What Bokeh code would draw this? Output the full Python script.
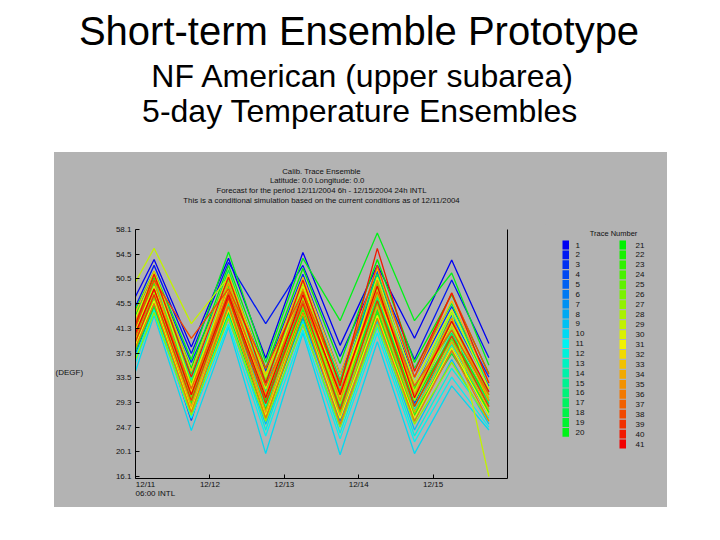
import colorsys
from bokeh.plotting import figure
from bokeh.models import Range1d, FixedTicker, LinearAxis, Spacer
from bokeh.layouts import column, row
from bokeh.embed import file_html
from bokeh.resources import INLINE
from bokeh.core.properties import value

# ---------------- data ----------------
hours = [0, 6, 18, 30, 42, 54, 66, 78, 90, 102, 114]   # hours after 12/11 06:00 INTL

tr01 = [46.7, 53.0, 38.1, 53.2, 36.2, 54.2, 38.4, 52.0, 39.6, 52.9, 38.7]
tr02 = [45.0, 52.0, 37.0, 52.5, 42.1, 52.0, 36.5, 50.5, 36.0, 49.5, 36.3]
tr03 = [44.0, 50.5, 35.5, 50.0, 34.0, 50.5, 33.5, 49.0, 33.0, 45.0, 33.0]
tr04 = [37.0, 45.2, 25.6, 46.0, 27.5, 48.0, 29.0, 47.0, 28.5, 42.0, 29.0]
tr05 = [42.5, 49.0, 31.0, 48.5, 31.5, 47.5, 30.0, 51.0, 31.0, 43.5, 31.5]
tr06 = [40.0, 47.5, 29.0, 46.5, 29.0, 45.5, 27.5, 46.0, 27.0, 40.0, 28.0]
tr07 = [39.0, 46.0, 30.5, 44.5, 26.5, 43.0, 25.5, 44.0, 26.0, 37.5, 26.5]
tr08 = [41.5, 48.0, 33.0, 47.0, 31.0, 46.0, 32.0, 48.5, 29.5, 41.5, 30.5]
tr09 = [38.5, 45.5, 28.0, 43.0, 25.0, 42.0, 24.5, 42.5, 24.0, 36.0, 25.0]
tr10 = [34.0, 43.5, 23.9, 41.5, 20.0, 40.5, 19.8, 39.0, 20.0, 31.5, 24.0]
tr11 = [35.5, 44.0, 26.0, 42.0, 23.0, 41.0, 22.5, 40.5, 22.0, 33.0, 24.5]
tr12 = [36.5, 44.5, 27.0, 43.5, 24.0, 42.5, 23.5, 41.5, 23.0, 34.5, 26.0]
tr13 = [40.5, 47.0, 30.0, 45.0, 28.0, 44.0, 27.0, 45.0, 27.5, 38.5, 28.5]
tr14 = [43.0, 49.5, 32.5, 49.0, 32.0, 48.5, 31.0, 49.5, 32.0, 44.0, 32.0]
tr15 = [38.0, 46.5, 28.5, 45.5, 27.0, 45.0, 26.5, 43.0, 25.5, 39.0, 27.0]
tr16 = [41.0, 48.5, 31.5, 47.5, 30.5, 47.0, 29.5, 46.5, 30.0, 41.0, 29.5]
tr17 = [39.5, 47.0, 29.5, 48.0, 29.5, 46.0, 28.0, 47.5, 28.0, 40.5, 28.5]
tr18 = [42.0, 50.0, 33.5, 51.2, 33.0, 49.0, 32.5, 50.5, 34.5, 45.5, 31.0]
tr19 = [37.5, 45.0, 27.5, 44.0, 26.0, 43.5, 26.0, 44.5, 27.0, 37.0, 27.5]
tr20 = [44.5, 51.0, 36.0, 54.3, 35.5, 53.2, 42.6, 57.5, 42.6, 50.7, 35.0]
tr21 = [43.5, 50.0, 34.5, 52.0, 34.5, 51.5, 35.3, 53.0, 35.5, 47.0, 33.6]
tr22 = [40.0, 47.5, 30.5, 46.0, 29.0, 46.5, 29.0, 46.0, 29.0, 40.0, 29.0]
tr23 = [38.0, 46.0, 28.5, 45.0, 27.5, 44.5, 27.0, 44.0, 26.5, 38.0, 27.0]
tr24 = [41.5, 49.0, 32.0, 48.5, 31.0, 48.0, 31.5, 49.0, 31.0, 42.5, 30.0]
tr25 = [39.0, 46.5, 29.5, 47.0, 28.5, 45.0, 28.5, 45.5, 28.0, 39.5, 28.0]
tr26 = [42.0, 48.0, 31.0, 49.5, 32.5, 47.5, 30.5, 47.0, 30.5, 43.0, 30.0]
tr27 = [36.0, 44.0, 26.5, 43.0, 25.5, 42.0, 24.5, 42.0, 25.0, 35.5, 25.5]
tr28 = [40.5, 47.5, 29.0, 46.5, 30.0, 46.5, 28.5, 48.0, 29.0, 41.5, 29.5]
tr29 = [49.2, 54.9, 42.1, 50.0, 33.0, 49.0, 31.5, 48.5, 30.5, 44.0, 16.1]
tr30 = [43.0, 50.5, 31.5, 49.0, 31.0, 48.5, 30.0, 50.0, 32.0, 44.5, 31.0]
tr31 = [38.5, 46.0, 27.5, 44.5, 26.5, 44.0, 26.0, 43.5, 26.0, 38.0, 26.5]
tr32 = [41.0, 48.5, 30.5, 48.0, 29.5, 47.0, 29.5, 47.5, 29.5, 42.0, 29.0]
tr33 = [44.0, 51.0, 34.0, 50.5, 33.5, 50.0, 33.5, 51.5, 33.0, 46.0, 32.0]
tr34 = [39.5, 47.0, 28.0, 46.0, 27.0, 45.5, 26.5, 45.0, 27.0, 39.0, 27.5]
tr35 = [42.5, 49.5, 30.0, 49.0, 30.0, 48.0, 29.0, 49.5, 30.0, 43.0, 29.0]
tr36 = [38.0, 45.5, 27.0, 45.0, 26.0, 44.0, 25.0, 43.0, 25.5, 37.5, 25.5]
tr37 = [40.0, 48.0, 31.0, 47.5, 31.5, 46.0, 30.5, 47.5, 31.5, 41.0, 30.0]
tr38 = [41.5, 49.5, 39.6, 48.0, 34.5, 47.5, 32.0, 52.0, 33.0, 47.3, 33.5]
tr39 = [39.0, 47.0, 29.0, 46.5, 28.5, 45.5, 27.5, 46.0, 28.0, 40.0, 28.0]
tr40 = [42.0, 50.5, 33.0, 50.0, 32.0, 49.5, 31.5, 54.9, 34.0, 47.3, 32.0]
tr41 = [40.5, 48.0, 30.0, 47.0, 29.5, 47.0, 30.0, 48.5, 29.5, 42.5, 30.5]

traces = [tr01, tr02, tr03, tr04, tr05, tr06, tr07, tr08, tr09, tr10,
          tr11, tr12, tr13, tr14, tr15, tr16, tr17, tr18, tr19, tr20,
          tr21, tr22, tr23, tr24, tr25, tr26, tr27, tr28, tr29, tr30,
          tr31, tr32, tr33, tr34, tr35, tr36, tr37, tr38, tr39, tr40, tr41]
trace_numbers = list(range(1, 42))

x_tick_hours = [0, 24, 48, 72, 96]
x_tick_labels = ["12/11", "12/12", "12/13", "12/14", "12/15"]
x_tick_sublabel = "06:00 INTL"
y_tick_values = [16.1, 20.3, 24.5, 28.7, 32.9, 37.1, 41.3, 45.5, 49.7, 53.9, 58.1]
y_tick_labels = ["16.1", "20.1", "24.7", "29.3", "33.5", "37.5", "41.3", "45.5", "50.5", "54.5", "58.1"]
y_unit = "(DEGF)"
legend_title = "Trace Number"

title_lines = ["Short-term Ensemble Prototype", "NF American (upper subarea)", "5-day Temperature Ensembles"]
header_lines = ["Calib. Trace Ensemble",
                "Latitude: 0.0     Longitude: 0.0",
                "Forecast for the period 12/11/2004 6h - 12/15/2004 24h INTL",
                "This is a conditional simulation based on the current conditions as of 12/11/2004"]

# ---------------- styles ----------------
FONT = "Liberation Sans"
GRAY = "#b3b3b3"
INK = "#111111"
TOP_B, BOT_B = 5, 29          # shared top/bottom borders of the plots in the chart row

def trace_color(i, n):
    h = (240.0 * (1 - i / (n - 1))) / 360.0
    r, g, b = colorsys.hsv_to_rgb(h, 1.0, 0.95)
    return "#%02x%02x%02x" % (int(r * 255), int(g * 255), int(b * 255))

colors = [trace_color(i, len(traces)) for i in range(len(traces))]


def blank_fig(w, h, x0, x1, y0, y1, fill, top=0, bottom=0):
    f = figure(width=w, height=h, x_range=Range1d(x0, x1), y_range=Range1d(y1, y0),
               x_axis_type=None, y_axis_type=None, output_backend="svg",
               toolbar_location=None, min_border=0, min_border_top=top, min_border_bottom=bottom)
    f.grid.visible = False
    f.outline_line_color = None
    f.background_fill_color = fill
    f.border_fill_color = fill
    return f

# ---------------- slide title (page pixels) ----------------
tf = blank_fig(704, 152, 0, 704, 0, 152, "white")
tf.text(x=[358.5], y=[30], text=[title_lines[0]], text_font=value(FONT), text_font_size="40px",
        text_align="center", text_baseline="middle", text_color="black")
tf.text(x=[362.5, 359.5], y=[75, 110], text=title_lines[1:], text_font=value(FONT),
        text_font_size="32px", text_align="center", text_baseline="middle", text_color="black")

# ---------------- header of the embedded chart ----------------
hf = blank_fig(613, 72, 54, 667, 152, 224, GRAY)
hf.text(x=[321] * 4, y=[170.7, 180.3, 190.0, 199.5], text=header_lines, text_font=value(FONT),
        text_font_size="7.8px", text_align="center", text_baseline="middle", text_color=INK)

# ---------------- y unit text at left (frame = page y 229..478) ----------------
lf = blank_fig(46, 283, 54, 100, 229, 478, GRAY, TOP_B, BOT_B)
lf.text(x=[55], y=[371.5], text=[y_unit], text_font=value(FONT), text_font_size="8px",
        text_align="left", text_baseline="middle", text_color=INK)

# ---------------- main chart ----------------
p = figure(width=445, height=283, x_range=Range1d(0, 120), y_range=Range1d(15.76, 58.1),
           output_backend="svg", toolbar_location=None,
           min_border_left=35, min_border_right=38, min_border_top=TOP_B, min_border_bottom=BOT_B)
p.background_fill_color = GRAY
p.border_fill_color = GRAY
p.outline_line_color = None
p.grid.visible = False

for i, tr in enumerate(traces):
    p.line(hours, tr, line_color=colors[i], line_width=1.3)

NBSP = "\u00a0"
xa = p.xaxis[0]
xa.ticker = FixedTicker(ticks=x_tick_hours)
# the first date label starts at its tick in the original, so it is padded on the left
xa.major_label_overrides = {t: ((NBSP * 9 + l) if k == 0 else l)
                            for k, (t, l) in enumerate(zip(x_tick_hours, x_tick_labels))}
xa.major_label_standoff = 1
ya = p.yaxis[0]
ya.ticker = FixedTicker(ticks=y_tick_values)
ya.major_label_overrides = {t: l for t, l in zip(y_tick_values, y_tick_labels)}
ya.major_label_standoff = 4
for ax in (xa, ya):
    ax.major_tick_in = 4
    ax.major_tick_out = 0
    ax.minor_tick_line_color = None
    ax.axis_line_color = "black"
    ax.major_tick_line_color = "black"
    ax.major_label_text_font = FONT
    ax.major_label_text_font_size = "8px"
    ax.major_label_text_color = INK

sub_pos = round(19.8 / 3.1, 2)
xc = LinearAxis(ticker=FixedTicker(ticks=[sub_pos]),
                major_label_overrides={sub_pos: x_tick_sublabel},
                axis_line_color=None, major_tick_line_color=None, minor_tick_line_color=None,
                major_tick_in=0, major_tick_out=0,
                major_label_text_font=FONT, major_label_text_font_size="8px",
                major_label_text_color=INK, major_label_standoff=-3)
p.add_layout(xc, "below")

ra = LinearAxis(ticker=FixedTicker(ticks=[]), major_tick_line_color=None,
                minor_tick_line_color=None, major_tick_in=0, major_tick_out=0,
                axis_line_color="black")
p.add_layout(ra, "right")

# ---------------- legend (frame = page y 229..478) ----------------
gf = blank_fig(122, 283, 545, 667, 229, 478, GRAY, TOP_B, BOT_B)
gf.text(x=[613], y=[233], text=[legend_title], text_font=value(FONT), text_font_size="7.5px",
        text_align="center", text_baseline="middle", text_color=INK)
sw_left, sw_y, lab_x = [], [], []
for k in range(len(trace_numbers)):
    if k < 20:
        sw_left.append(562); lab_x.append(575); sw_y.append(244.5 + 9.86 * k)
    else:
        sw_left.append(619); lab_x.append(635); sw_y.append(244.5 + 9.95 * (k - 20))
gf.quad(left=sw_left, right=[v + 6.5 for v in sw_left], top=[v - 4.4 for v in sw_y],
        bottom=[v + 4.4 for v in sw_y], fill_color=colors, line_color=None)
gf.text(x=lab_x, y=sw_y, text=[str(n) for n in trace_numbers], text_font=value(FONT),
        text_font_size="8px", text_align="left", text_baseline="middle", text_color=INK)

bg = {"background-color": GRAY}
chart_row = row(lf, p, gf, styles=bg)
gray_block = column(hf, chart_row, styles=bg)
layout = column(tf, row(Spacer(width=54, height=355), gray_block))
open("out.html", "w").write(file_html(layout, INLINE))
